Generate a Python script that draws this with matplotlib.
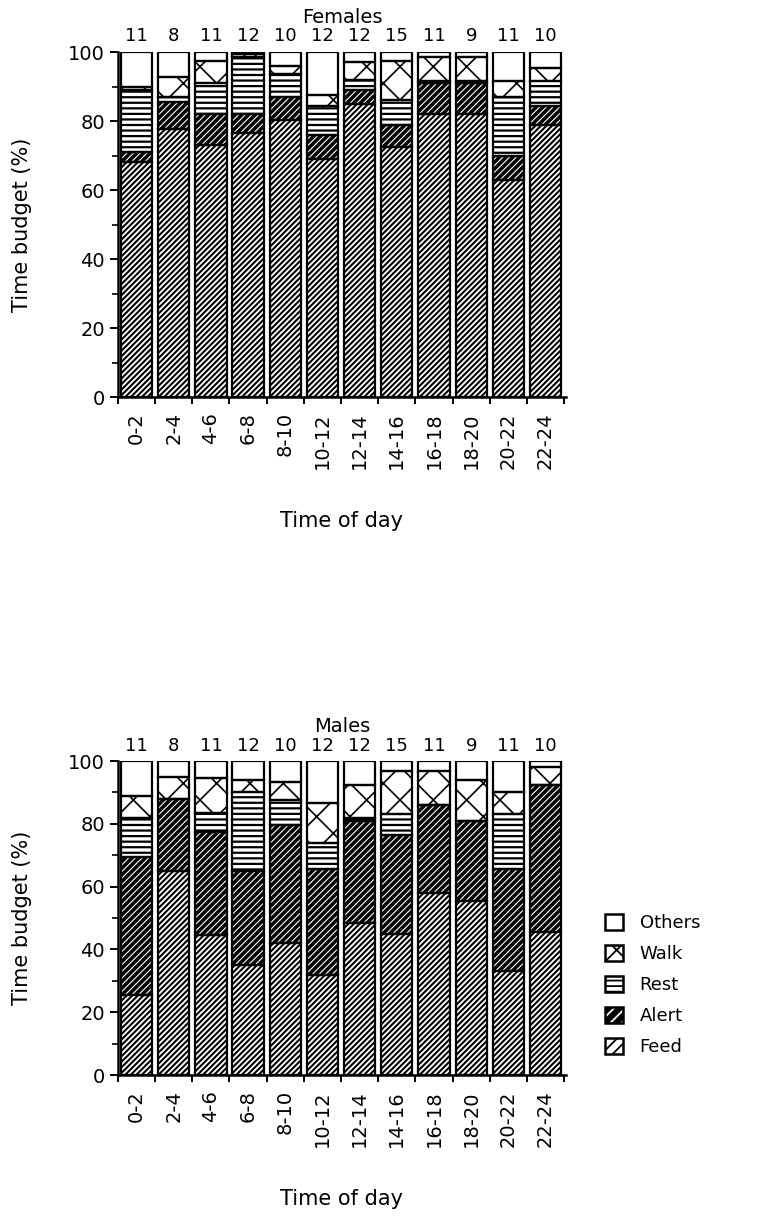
import numpy as np
import matplotlib
matplotlib.use("Agg")
import matplotlib.pyplot as plt
from matplotlib.patches import Patch
from matplotlib.legend_handler import HandlerTuple

# ---------- DATA ----------
times = ["0-2", "2-4", "4-6", "6-8", "8-10", "10-12",
         "12-14", "14-16", "16-18", "18-20", "20-22", "22-24"]
n_obs = [11, 8, 11, 12, 10, 12, 12, 15, 11, 9, 11, 10]

fem_feed   = [68, 77.6, 73, 76.5, 80.3, 69, 85, 72.5, 82, 82, 63, 79]
fem_alert  = [3, 7.9, 9, 5.5, 6.8, 7, 4, 6.5, 9, 9, 7, 5.5]
fem_rest   = [18, 1.6, 9, 16.5, 6.5, 8.5, 3, 7, 0.5, 0.5, 17, 7]
fem_walk   = [1, 5.8, 6.5, 1, 2.5, 3, 5, 11.5, 7, 7, 4.5, 4]
fem_others = [10, 7.1, 2.5, 0.5, 3.9, 12.5, 3, 2.5, 1.5, 1.5, 8.5, 4.5]

mal_feed   = [25.5, 65, 44.5, 35, 42, 32, 48.5, 45, 58, 55.5, 33, 45.5]
mal_alert  = [44, 23, 33, 30, 37.5, 33.5, 32.5, 31.5, 28, 25.5, 32.5, 47]
mal_rest   = [12.5, 0, 6, 25, 8, 8.5, 1, 6.5, 0, 0, 17.5, 0]
mal_walk   = [7, 7, 11, 4, 6, 12.5, 10.5, 14, 11, 13, 7, 5.5]
mal_others = [11, 5, 5.5, 6, 6.5, 13.5, 7.5, 3, 3, 6, 10, 2]

# ---------- STYLE ----------
plt.rcParams["font.family"] = ["DejaVu Sans"]
plt.rcParams["hatch.linewidth"] = 1.3

# (name, facecolor, hatch, hatch colour, hatch linewidth)
styles = [
    ("Feed",   "white", "//////", "black", 1.5),
    ("Alert",  "black", "/////",  "white", 0.8),
    ("Rest",   "white", "---",    "black", 1.6),
    ("Walk",   "white", "x",      "black", 1.2),
    ("Others", "white", "",       "black", 1.0),
]


def set_hlw(patch, lw):
    if hasattr(patch, "set_hatch_linewidth"):
        patch.set_hatch_linewidth(lw)


fig = plt.figure(figsize=(7.7, 12.25), dpi=100)


def draw_panel(ax, series, title):
    x = np.arange(len(times))
    bottom = np.zeros(len(times))
    for vals, (name, fc, hatch, hc, hlw) in zip(series, styles):
        vals = np.array(vals, dtype=float)
        # pattern layer (hatch takes the edge colour, no outline drawn)
        bars = ax.bar(x, vals, 0.84, bottom=bottom, color=fc, hatch=hatch,
                      edgecolor=hc, linewidth=0, zorder=2)
        for b in bars:
            set_hlw(b, hlw)
        # outline layer
        ax.bar(x, vals, 0.84, bottom=bottom, fill=False,
               edgecolor="black", linewidth=1.6, zorder=3)
        bottom += vals
    for i, n in enumerate(n_obs):
        ax.text(i, 102, str(n), ha="center", va="bottom", fontsize=13,
                clip_on=False)
    ax.set_xlim(-0.5, 11.55)
    ax.set_ylim(0, 100)
    ax.set_yticks(range(0, 101, 20))
    ax.set_yticks(range(10, 100, 20), minor=True)
    ax.set_xticks(x)
    ax.set_xticklabels(times, rotation=90, fontsize=14)
    ax.set_xticks(np.arange(-0.5, 12, 1), minor=True)
    ax.tick_params(axis="x", which="major", length=0, pad=11)
    ax.tick_params(axis="x", which="minor", length=5, width=1.4, direction="out")
    ax.tick_params(axis="y", which="major", length=6, width=1.4, labelsize=14)
    ax.tick_params(axis="y", which="minor", length=4, width=1.2)
    for s in ["top", "right"]:
        ax.spines[s].set_visible(False)
    for s in ["left", "bottom"]:
        ax.spines[s].set_linewidth(1.8)
    ax.set_ylabel("Time budget (%)", fontsize=15, labelpad=26)
    ax.set_xlabel("Time of day", fontsize=15, labelpad=30)
    ax.set_title(title, fontsize=14, pad=21)


ax1 = fig.add_axes([0.1532, 0.6759, 0.5818, 0.2816])
draw_panel(ax1, [fem_feed, fem_alert, fem_rest, fem_walk, fem_others], "Females")

ax2 = fig.add_axes([0.1532, 0.1224, 0.5818, 0.2563])
draw_panel(ax2, [mal_feed, mal_alert, mal_rest, mal_walk, mal_others], "Males")

# legend: pattern patch overlaid with an outline patch
handles, labels = [], []
for name, fc, hatch, hc, hlw in reversed(styles):
    fill = Patch(facecolor=fc, hatch=hatch[:3], edgecolor=hc, linewidth=0)
    set_hlw(fill, hlw)
    edge = Patch(fill=False, edgecolor="black", linewidth=1.8)
    handles.append((fill, edge))
    labels.append(name)
fig.legend(handles, labels,
           handler_map={tuple: HandlerTuple(ndivide=1, pad=0)},
           loc="center left", bbox_to_anchor=(0.765, 0.196),
           frameon=False, fontsize=13, handlelength=1.0, handleheight=1.0,
           handletextpad=0.9, labelspacing=0.7)

fig.savefig("out.png", dpi=100)
